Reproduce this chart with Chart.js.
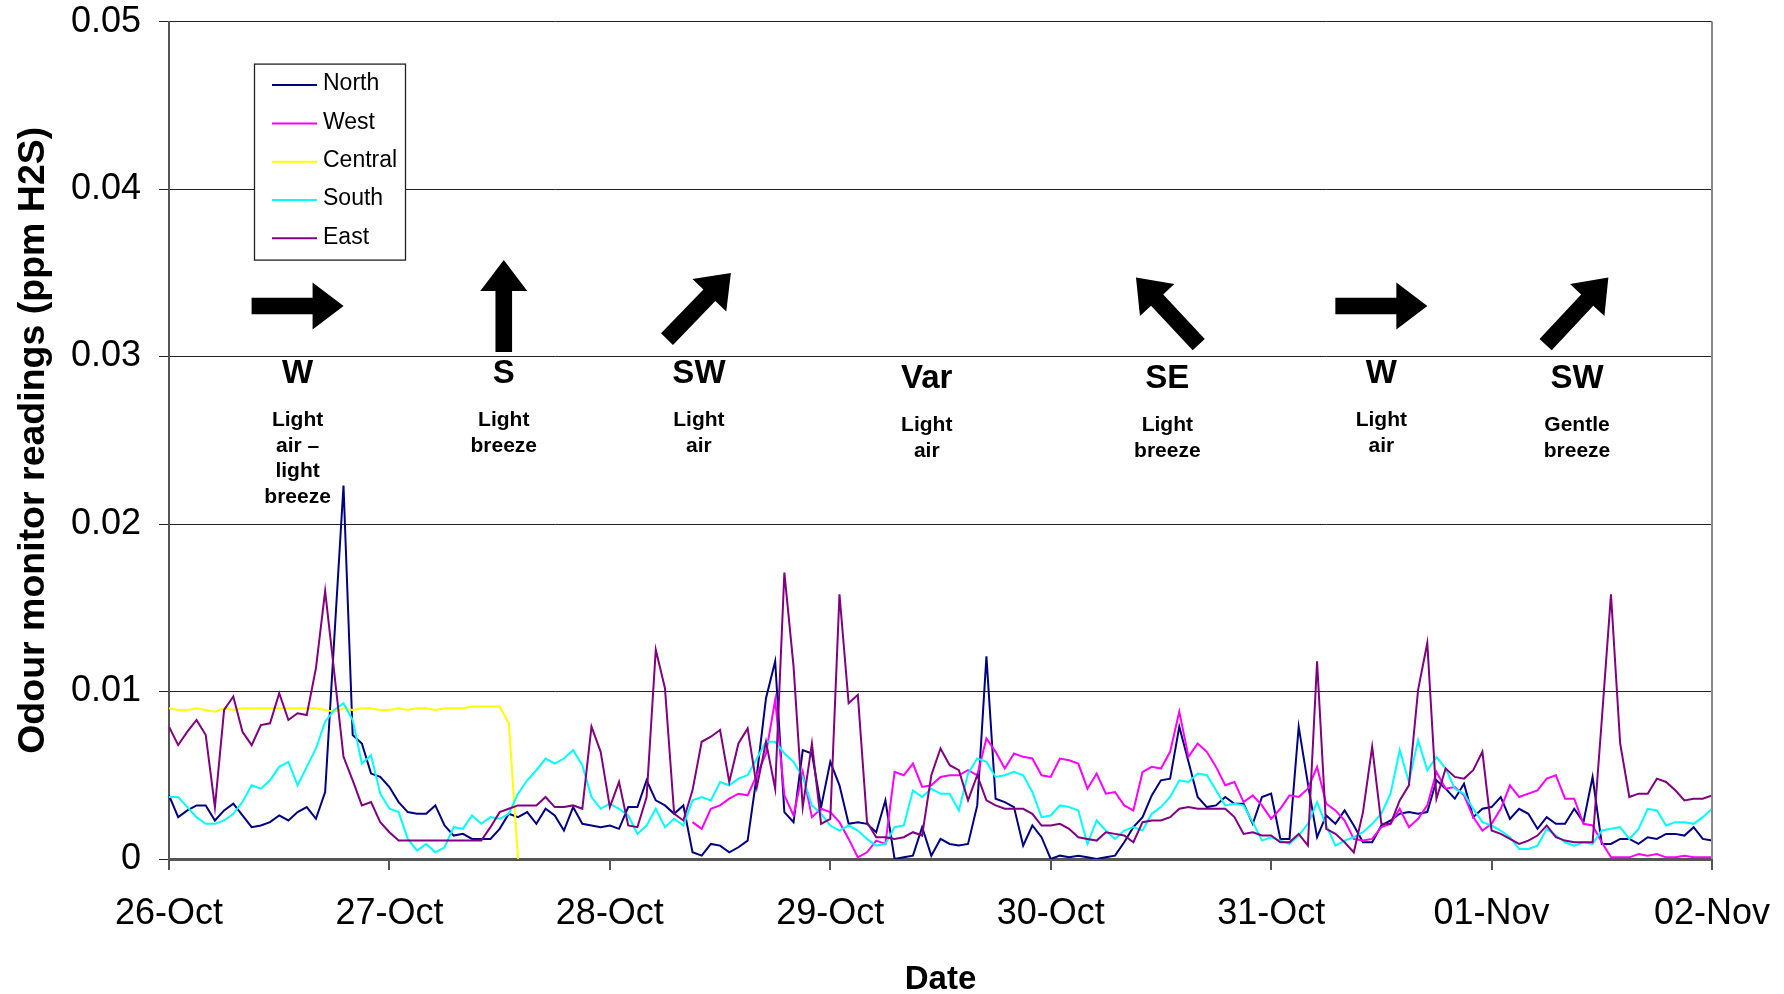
<!DOCTYPE html>
<html><head><meta charset="utf-8">
<script src="https://cdn.jsdelivr.net/npm/chart.js@4.4.1/dist/chart.umd.min.js"></script>
<style>html,body{margin:0;padding:0;background:#fff;}canvas{display:block;}</style>
</head><body>
<canvas id="c" width="1784" height="994"></canvas>
<script>
// ---------- DATA (hourly readings, ppm H2S) ----------
const dayLabels = ['26-Oct','27-Oct','28-Oct','29-Oct','30-Oct','31-Oct','01-Nov','02-Nov'];
const yTickLabels = ['0','0.01','0.02','0.03','0.04','0.05'];

const north = [
0.0038,0.0025,0.0029,0.0032,0.0032,0.0023,0.0029,0.0033,0.0026,0.0019,
0.0020,0.0022,0.0026,0.0023,0.0028,0.0031,0.0024,0.0040,0.0132,0.0223,
0.0074,0.0069,0.0051,0.0049,0.0043,0.0034,0.0028,0.0027,0.0027,0.0032,
0.0020,0.0014,0.0015,0.0012,0.0012,0.0012,0.0018,0.0027,0.0025,0.0028,
0.0021,0.0030,0.0026,0.0017,0.0031,0.0021,0.0020,0.0019,0.0020,0.0018,
0.0031,0.0031,0.0047,0.0035,0.0032,0.0027,0.0032,0.0004,0.0002,0.0009,
0.0008,0.0004,0.0007,0.0011,0.0050,0.0096,0.0118,0.0028,0.0022,0.0065,
0.0063,0.0031,0.0058,0.0044,0.0021,0.0022,0.0021,0.0016,0.0035,0.0000,
0.0001,0.0002,0.0019,0.0002,0.0012,0.0009,0.0008,0.0009,0.0032,0.0121,
0.0036,0.0034,0.0031,0.0008,0.0020,0.0013,0.0000,0.0002,0.0001,0.0002,
0.0001,0.0000,0.0001,0.0002,0.0010,0.0019,0.0025,0.0038,0.0047,0.0048,
0.0079,0.0058,0.0037,0.0031,0.0032,0.0037,0.0033,0.0033,0.0021,0.0037,
0.0039,0.0012,0.0012,0.0079,0.0045,0.0013,0.0026,0.0021,0.0029,0.0020,
0.0010,0.0010,0.0020,0.0023,0.0027,0.0028,0.0027,0.0028,0.0047,0.0042,
0.0036,0.0045,0.0025,0.0030,0.0031,0.0037,0.0024,0.0030,0.0027,0.0018,
0.0025,0.0021,0.0021,0.0030,0.0022,0.0049,0.0009,0.0009,0.0012,0.0012,
0.0009,0.0013,0.0012,0.0015,0.0015,0.0014,0.0019,0.0012,0.0011];

const westStartHour = 57;
const west = [
0.0022,0.0018,0.0030,
0.0032,0.0036,0.0039,0.0038,0.0050,0.0063,0.0095,0.0038,0.0026,0.0052,
0.0025,0.0030,0.0028,0.0022,0.0012,0.0001,0.0004,0.0011,0.0009,0.0052,
0.0050,0.0057,0.0043,0.0044,0.0049,0.0050,0.0050,0.0053,0.0050,0.0072,
0.0064,0.0054,0.0063,0.0061,0.0060,0.0050,0.0049,0.0060,0.0059,0.0057,
0.0042,0.0051,0.0039,0.0040,0.0032,0.0029,0.0052,0.0055,0.0054,0.0064,
0.0088,0.0061,0.0069,0.0064,0.0055,0.0044,0.0046,0.0034,0.0038,0.0032,
0.0024,0.0030,0.0038,0.0037,0.0042,0.0055,0.0033,0.0029,0.0023,0.0012,
0.0011,0.0012,0.0019,0.0021,0.0030,0.0019,0.0024,0.0032,0.0052,0.0042,
0.0043,0.0038,0.0025,0.0017,0.0021,0.0030,0.0044,0.0037,0.0039,0.0041,
0.0048,0.0050,0.0036,0.0036,0.0021,0.0020,0.0010,0.0001,0.0001,0.0001,
0.0003,0.0002,0.0003,0.0001,0.0001,0.0002,0.0001,0.0001,0.0001];

const central = [
0.0090,0.0089,0.0089,0.0090,0.0089,0.0088,0.0090,0.0089,0.0090,0.0090,
0.0090,0.0090,0.0090,0.0090,0.0090,0.0090,0.0090,0.0089,0.0088,0.0090,
0.0089,0.0090,0.0090,0.0089,0.0089,0.0090,0.0089,0.0090,0.0090,0.0089,
0.0090,0.0090,0.0090,0.0091,0.0091,0.0091,0.0091,0.0081,0.0000];

const south = [
0.0037,0.0037,0.0031,0.0025,0.0021,0.0021,0.0023,0.0027,0.0034,0.0044,
0.0042,0.0047,0.0055,0.0058,0.0044,0.0055,0.0066,0.0082,0.0089,0.0093,
0.0083,0.0057,0.0062,0.0039,0.0030,0.0028,0.0012,0.0005,0.0009,0.0004,
0.0007,0.0019,0.0018,0.0026,0.0021,0.0025,0.0024,0.0027,0.0039,0.0047,
0.0053,0.0060,0.0057,0.0060,0.0065,0.0056,0.0037,0.0030,0.0033,0.0030,
0.0026,0.0015,0.0020,0.0030,0.0019,0.0024,0.0020,0.0035,0.0037,0.0035,
0.0046,0.0044,0.0048,0.0050,0.0060,0.0070,0.0070,0.0063,0.0058,0.0049,
0.0032,0.0027,0.0020,0.0017,0.0020,0.0017,0.0012,0.0008,0.0009,0.0019,
0.0020,0.0041,0.0037,0.0042,0.0039,0.0039,0.0029,0.0051,0.0060,0.0058,
0.0049,0.0050,0.0052,0.0050,0.0040,0.0025,0.0026,0.0032,0.0031,0.0029,
0.0009,0.0023,0.0017,0.0012,0.0017,0.0019,0.0017,0.0027,0.0031,0.0037,
0.0047,0.0046,0.0051,0.0050,0.0041,0.0032,0.0033,0.0032,0.0022,0.0011,
0.0013,0.0011,0.0009,0.0014,0.0021,0.0034,0.0020,0.0008,0.0011,0.0013,
0.0016,0.0021,0.0027,0.0039,0.0065,0.0046,0.0071,0.0053,0.0061,0.0054,
0.0042,0.0039,0.0030,0.0022,0.0020,0.0017,0.0013,0.0006,0.0006,0.0008,
0.0018,0.0014,0.0010,0.0008,0.0010,0.0009,0.0017,0.0018,0.0019,0.0012,
0.0018,0.0030,0.0029,0.0020,0.0022,0.0022,0.0021,0.0025,0.0030];

const east = [
0.0079,0.0068,0.0076,0.0083,0.0074,0.0031,0.0089,0.0097,0.0076,0.0068,
0.0080,0.0081,0.0099,0.0083,0.0087,0.0086,0.0114,0.0160,0.0111,0.0061,
0.0047,0.0032,0.0034,0.0022,0.0016,0.0011,0.0011,0.0011,0.0011,0.0011,
0.0011,0.0011,0.0011,0.0011,0.0011,0.0019,0.0028,0.0030,0.0032,0.0032,
0.0032,0.0037,0.0031,0.0031,0.0032,0.0030,0.0079,0.0064,0.0031,0.0046,
0.0020,0.0019,0.0037,0.0125,0.0102,0.0027,0.0023,0.0041,0.0070,0.0073,
0.0077,0.0046,0.0069,0.0078,0.0043,0.0070,0.0042,0.0171,0.0115,0.0031,
0.0069,0.0021,0.0024,0.0158,0.0093,0.0098,0.0022,0.0013,0.0013,0.0012,
0.0013,0.0016,0.0014,0.0050,0.0066,0.0056,0.0053,0.0035,0.0050,0.0035,
0.0032,0.0030,0.0030,0.0030,0.0027,0.0020,0.0020,0.0021,0.0018,0.0013,
0.0012,0.0011,0.0016,0.0015,0.0014,0.0010,0.0022,0.0023,0.0023,0.0025,
0.0030,0.0031,0.0030,0.0030,0.0030,0.0030,0.0025,0.0015,0.0016,0.0014,
0.0014,0.0010,0.0010,0.0015,0.0008,0.0118,0.0018,0.0015,0.0010,0.0004,
0.0028,0.0067,0.0021,0.0021,0.0035,0.0044,0.0101,0.0129,0.0036,0.0054,
0.0049,0.0048,0.0053,0.0064,0.0017,0.0015,0.0012,0.0009,0.0011,0.0014,
0.0020,0.0013,0.0011,0.0010,0.0010,0.0010,0.0083,0.0158,0.0069,0.0037,
0.0039,0.0039,0.0048,0.0046,0.0041,0.0035,0.0036,0.0036,0.0038];

// wind annotations: hour position, level (ppm) of the direction letter baseline
const windNotes = [
  {hour:14.0,  level:0.02842, dir:'W',   angle:0,    desc:['Light','air \u2013','light','breeze']},
  {hour:36.45, level:0.02842, dir:'S',   angle:-90,  desc:['Light','breeze']},
  {hour:57.7,  level:0.02842, dir:'SW',  angle:-46,  desc:['Light','air']},
  {hour:82.5,  level:0.02812, dir:'Var', angle:null, desc:['Light','air']},
  {hour:108.7, level:0.02812, dir:'SE',  angle:-133, desc:['Light','breeze']},
  {hour:132.0, level:0.02842, dir:'W',   angle:0,    desc:['Light','air']},
  {hour:153.3, level:0.02812, dir:'SW',  angle:-47,  desc:['Gentle','breeze']}
];

// ---------- CHART ----------
const FONT = "'Liberation Sans', Arial, Helvetica, sans-serif";
Chart.defaults.font.family = FONT;
Chart.defaults.color = '#000';

const toPts = (arr, start) => arr.map((v, k) => ({x: start + k, y: v}));

function drawArrow(ctx, cx, cy, angDeg) {
  const L = 92, sw = 8.3, hl = 31, hw = 23.5;
  const pts = [[-L/2,-sw],[L/2-hl,-sw],[L/2-hl,-hw],[L/2,0],[L/2-hl,hw],[L/2-hl,sw],[-L/2,sw]];
  const a = angDeg * Math.PI / 180, c = Math.cos(a), s = Math.sin(a);
  ctx.beginPath();
  pts.forEach(([px, py], i) => {
    const X = cx + px * c - py * s, Y = cy + px * s + py * c;
    i ? ctx.lineTo(X, Y) : ctx.moveTo(X, Y);
  });
  ctx.closePath();
  ctx.fillStyle = '#000';
  ctx.fill();
}

const extrasPlugin = {
  id: 'extras',
  afterDatasetsDraw(chart) {
    const {ctx, chartArea: a, scales: {x, y}} = chart;
    ctx.save();
    // right border of plot
    ctx.strokeStyle = '#8a8a8a'; ctx.lineWidth = 2;
    ctx.beginPath(); ctx.moveTo(a.right, a.top); ctx.lineTo(a.right, a.bottom); ctx.stroke();

    // legend box
    const bx = a.left + 85.5, by = a.top + 42.5, bw = 151, bh = 196;
    ctx.fillStyle = '#fff'; ctx.fillRect(bx, by, bw, bh);
    ctx.strokeStyle = '#222'; ctx.lineWidth = 1.3; ctx.strokeRect(bx, by, bw, bh);
    ctx.font = '23px ' + FONT; ctx.textAlign = 'left'; ctx.textBaseline = 'middle';
    chart.data.datasets.forEach((ds, i) => {
      const ly = by + 21 + i * 38.3;
      ctx.strokeStyle = ds.borderColor; ctx.lineWidth = 2;
      ctx.beginPath(); ctx.moveTo(bx + 17.5, ly); ctx.lineTo(bx + 62.5, ly); ctx.stroke();
      ctx.fillStyle = '#000';
      ctx.fillText(ds.label, bx + 68.5, ly - 1);
    });

    // wind annotations
    windNotes.forEach(n => {
      const px = x.getPixelForValue(n.hour);
      const base = y.getPixelForValue(n.level);
      if (n.angle !== null) drawArrow(ctx, px, base - 77, n.angle);
      ctx.fillStyle = '#000'; ctx.textAlign = 'center'; ctx.textBaseline = 'alphabetic';
      ctx.font = 'bold 33px ' + FONT;
      ctx.fillText(n.dir, px, base);
      ctx.font = 'bold 21px ' + FONT;
      n.desc.forEach((line, k) => ctx.fillText(line, px, base + 43 + k * 25.5));
    });
    ctx.restore();
  }
};

const common = {borderWidth: 2, pointRadius: 0, tension: 0, fill: false, spanGaps: false};

new Chart(document.getElementById('c'), {
  type: 'line',
  data: {
    datasets: [
      {...common, label: 'North',   data: toPts(north, 0),               borderColor: '#000080', order: 5},
      {...common, label: 'West',    data: toPts(west, westStartHour),    borderColor: '#FF00FF', order: 4},
      {...common, label: 'Central', data: toPts(central, 0),             borderColor: '#FFFF00', order: 3},
      {...common, label: 'South',   data: toPts(south, 0),               borderColor: '#00FFFF', order: 2},
      {...common, label: 'East',    data: toPts(east, 0),                borderColor: '#800080', order: 1}
    ]
  },
  options: {
    responsive: false, animation: false, events: [],
    layout: {padding: {left: 0, right: 72, top: 21.6, bottom: 0}},
    plugins: {legend: {display: false}, tooltip: {enabled: false}},
    scales: {
      x: {
        type: 'linear', min: 0, max: (dayLabels.length - 1) * 24,
        ticks: {stepSize: 24, autoSkip: false, maxRotation: 0, color: '#000', font: {size: 36}, padding: 22,
                callback: v => dayLabels[Math.round(v / 24)] ?? ''},
        grid: {drawOnChartArea: false, drawTicks: true, tickLength: 11, color: '#555', lineWidth: 2},
        border: {display: true, color: '#555', width: 3},
        title: {display: true, text: 'Date', color: '#000', font: {size: 33, weight: 'bold', lineHeight: 0.85}, padding: {top: 0, bottom: 0}},
        afterFit: s => { s.height = 135; s.paddingLeft = 0; s.paddingRight = 0; }
      },
      y: {
        min: 0, max: 0.05,
        ticks: {stepSize: 0.01, color: '#000', font: {size: 36}, padding: 18,
                callback: v => yTickLabels[Math.round(v / 0.01)] ?? ''},
        grid: {color: '#222', lineWidth: 1, tickLength: 10, drawTicks: true},
        border: {display: true, color: '#555', width: 2},
        title: {display: true, text: 'Odour monitor readings (ppm H2S)', color: '#000', font: {size: 37.5, weight: 'bold'}, padding: {top: 11, bottom: 0}},
        afterFit: s => { s.width = 169; s.paddingTop = 0; s.paddingBottom = 0; }
      }
    }
  },
  plugins: [extrasPlugin]
});
</script>
</body></html>
